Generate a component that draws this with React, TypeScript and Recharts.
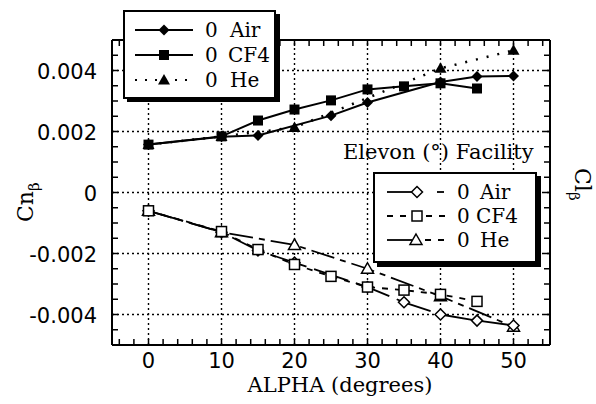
import React from 'react';
import { ComposedChart, Line, XAxis, YAxis, ReferenceLine } from 'recharts';

// Cn-beta, filled markers (upper group)
const cnAir = [
  { alpha: 0, value: 0.00157 },
  { alpha: 10, value: 0.00183 },
  { alpha: 15, value: 0.00187 },
  { alpha: 25, value: 0.00252 },
  { alpha: 30, value: 0.00295 },
  { alpha: 40, value: 0.00362 },
  { alpha: 45, value: 0.0038 },
  { alpha: 50, value: 0.00382 },
];
const cnCF4 = [
  { alpha: 0, value: 0.00157 },
  { alpha: 10, value: 0.00184 },
  { alpha: 15, value: 0.00236 },
  { alpha: 20, value: 0.00272 },
  { alpha: 25, value: 0.00302 },
  { alpha: 30, value: 0.00338 },
  { alpha: 35, value: 0.00348 },
  { alpha: 40, value: 0.00358 },
  { alpha: 45, value: 0.00341 },
];
const cnHe = [
  { alpha: 0, value: 0.00157 },
  { alpha: 10, value: 0.00184 },
  { alpha: 20, value: 0.00213 },
  { alpha: 40, value: 0.00407 },
  { alpha: 50, value: 0.00466 },
];

// Cl-beta, open markers (lower group)
const clAir = [
  { alpha: 0, value: -0.0006 },
  { alpha: 10, value: -0.0013 },
  { alpha: 15, value: -0.0019 },
  { alpha: 20, value: -0.0023 },
  { alpha: 30, value: -0.0031 },
  { alpha: 35, value: -0.0036 },
  { alpha: 40, value: -0.004 },
  { alpha: 45, value: -0.0042 },
  { alpha: 50, value: -0.00436 },
];
const clCF4 = [
  { alpha: 0, value: -0.0006 },
  { alpha: 10, value: -0.00128 },
  { alpha: 15, value: -0.00187 },
  { alpha: 20, value: -0.00236 },
  { alpha: 25, value: -0.00275 },
  { alpha: 30, value: -0.0031 },
  { alpha: 35, value: -0.0032 },
  { alpha: 40, value: -0.00334 },
  { alpha: 45, value: -0.00357 },
];
const clHe = [
  { alpha: 0, value: -0.0006 },
  { alpha: 10, value: -0.0013 },
  { alpha: 20, value: -0.00172 },
  { alpha: 30, value: -0.0025 },
  { alpha: 40, value: -0.0034 },
  { alpha: 50, value: -0.0044 },
];

const xTicks = [-4, -2, 0, 2, 4, 6, 8, 10, 12, 14, 16, 18, 20, 22, 24, 26, 28, 30, 32, 34, 36, 38, 40, 42, 44, 46, 48, 50, 52, 54];
const xLabels = [0, 10, 20, 30, 40, 50];
const yTicks = [
  -0.0045, -0.004, -0.0035, -0.003, -0.0025, -0.002, -0.0015, -0.001, -0.0005, 0,
  0.0005, 0.001, 0.0015, 0.002, 0.0025, 0.003, 0.0035, 0.004, 0.0045,
];
const yLabels = [-0.004, -0.002, 0, 0.002, 0.004];

const SANS = '"DejaVu Sans", sans-serif';
const SERIF = '"DejaVu Serif", serif';
const INK = '#000';

type Kind = 'diamond' | 'square' | 'triangle' | 'oDiamond' | 'oSquare' | 'oTriangle';

function Marker({ kind, cx, cy }: { kind: Kind; cx: number; cy: number }) {
  const open = kind.startsWith('o');
  const fill = open ? '#fff' : INK;
  const sw = open ? 1.5 : 0;
  if (kind === 'diamond' || kind === 'oDiamond') {
    const r = 5.5;
    return <polygon points={`${cx},${cy - r} ${cx + r},${cy} ${cx},${cy + r} ${cx - r},${cy}`} fill={fill} stroke={INK} strokeWidth={sw} />;
  }
  if (kind === 'square' || kind === 'oSquare') {
    return <rect x={cx - 5} y={cy - 5} width={10} height={10} fill={fill} stroke={INK} strokeWidth={sw} />;
  }
  return <polygon points={`${cx},${cy - 6} ${cx + 6},${cy + 4.5} ${cx - 6},${cy + 4.5}`} fill={fill} stroke={INK} strokeWidth={sw} />;
}

const dotOf = (kind: Kind) => (p: any) => <Marker key={`${kind}-${p.index}`} kind={kind} cx={p.cx} cy={p.cy} />;

const isMajor = (list: number[], v: number) => list.some((m) => Math.abs(m - v) < 1e-9);

const BottomTick = (p: any) => {
  const v = p.payload.value;
  return (
    <g>
      <line x1={p.x} x2={p.x} y1={p.y} y2={p.y - 6} stroke={INK} strokeWidth={1.5} />
      {isMajor(xLabels, v) && (
        <text x={p.x} y={p.y + 23} textAnchor="middle" fontFamily={SANS} fontSize={21} fill={INK}>{v}</text>
      )}
    </g>
  );
};
const TopTick = (p: any) => <line x1={p.x} x2={p.x} y1={p.y} y2={p.y + 6} stroke={INK} strokeWidth={1.5} />;
const LeftTick = (p: any) => {
  const v = p.payload.value;
  return (
    <g>
      <line x1={p.x} x2={p.x + 6} y1={p.y} y2={p.y} stroke={INK} strokeWidth={1.5} />
      {isMajor(yLabels, v) && (
        <text x={p.x - 15} y={p.y + 8} textAnchor="end" fontFamily={SANS} fontSize={21} fill={INK}>{String(v)}</text>
      )}
    </g>
  );
};
const RightTick = (p: any) => <line x1={p.x} x2={p.x - 6} y1={p.y} y2={p.y} stroke={INK} strokeWidth={1.5} />;

const axisLine = { stroke: INK, strokeWidth: 2 };

function Overlay() {
  return (
    <svg width={596} height={404} style={{ position: 'absolute', left: 0, top: 0, pointerEvents: 'none' }}>
      {/* upper legend */}
      <rect x={127} y={14} width={153} height={88} fill={INK} />
      <rect x={124} y={11} width={151} height={87} fill="#fff" stroke={INK} strokeWidth={2} />
      <line x1={135} x2={193} y1={30} y2={30} stroke={INK} strokeWidth={2} />
      <Marker kind="diamond" cx={164} cy={30} />
      <line x1={135} x2={193} y1={55} y2={55} stroke={INK} strokeWidth={2} />
      <Marker kind="square" cx={164} cy={55} />
      <line x1={135} x2={193} y1={80} y2={80} stroke={INK} strokeWidth={2} strokeDasharray="2 8" />
      <Marker kind="triangle" cx={164} cy={80} />
      <g fontFamily={SERIF} fontSize={20} fill={INK}>
        <text x={205} y={37}>0</text>
        <text x={230} y={37}>Air</text>
        <text x={205} y={62}>0</text>
        <text x={228} y={62}>CF4</text>
        <text x={205} y={87}>0</text>
        <text x={230} y={87}>He</text>
      </g>

      <text x={343} y={159} fontFamily={SERIF} fontSize={21} fill={INK}>Elevon (°) Facility</text>

      {/* lower legend */}
      <rect x={377} y={176} width={164} height={91} fill={INK} />
      <rect x={374} y={173} width={162} height={89} fill="#fff" stroke={INK} strokeWidth={2} />
      <line x1={387} x2={413} y1={192} y2={192} stroke={INK} strokeWidth={1.8} />
      <line x1={437} x2={444} y1={192} y2={192} stroke={INK} strokeWidth={1.8} />
      <Marker kind="oDiamond" cx={417} cy={192} />
      <line x1={387} x2={447} y1={216} y2={216} stroke={INK} strokeWidth={1.8} strokeDasharray="6 7" />
      <Marker kind="oSquare" cx={417} cy={216} />
      <line x1={387} x2={412} y1={240} y2={240} stroke={INK} strokeWidth={1.8} />
      <line x1={425} x2={447} y1={240} y2={240} stroke={INK} strokeWidth={1.8} strokeDasharray="6 7" />
      <Marker kind="oTriangle" cx={416} cy={240} />
      <g fontFamily={SERIF} fontSize={20} fill={INK}>
        <text x={457} y={199}>0</text>
        <text x={480} y={199}>Air</text>
        <text x={457} y={223}>0</text>
        <text x={476} y={223}>CF4</text>
        <text x={457} y={247}>0</text>
        <text x={480} y={247}>He</text>
      </g>

      {/* axis titles */}
      <text x={340} y={392} textAnchor="middle" fontFamily={SERIF} fontSize={21} fill={INK}>ALPHA (degrees)</text>
      <text transform="translate(33,222) rotate(-90)" fontFamily={SERIF} fontSize={22} fill={INK}>
        Cn<tspan dy={6} fontSize={15}>β</tspan>
      </text>
      <text transform="translate(575,168) rotate(90)" fontFamily={SERIF} fontSize={22} fill={INK}>
        Cl<tspan dy={6} fontSize={15}>β</tspan>
      </text>
    </svg>
  );
}

export default function App() {
  const lineCommon = {
    type: 'linear' as const,
    dataKey: 'value',
    xAxisId: 'bottom',
    yAxisId: 'left',
    stroke: INK,
    isAnimationActive: false,
    activeDot: false as const,
  };
  return (
    <div style={{ position: 'absolute', left: 0, top: 0, width: 596, height: 404, background: '#fff' }}>
      <ComposedChart width={596} height={404} margin={{ top: 39, right: 0, bottom: 0, left: 0 }}>
        <XAxis
          xAxisId="bottom"
          dataKey="alpha"
          type="number"
          domain={[-5, 55]}
          ticks={xTicks}
          interval={0}
          tickSize={0}
          tickMargin={0}
          height={59}
          axisLine={axisLine}
          tick={BottomTick}
          allowDataOverflow
        />
        <XAxis
          xAxisId="top"
          orientation="top"
          dataKey="alpha"
          type="number"
          domain={[-5, 55]}
          ticks={xTicks}
          interval={0}
          tickSize={0}
          tickMargin={0}
          height={1}
          axisLine={axisLine}
          tick={TopTick}
          allowDataOverflow
        />
        <YAxis
          yAxisId="left"
          type="number"
          domain={[-0.005, 0.005]}
          ticks={yTicks}
          interval={0}
          tickSize={0}
          tickMargin={0}
          width={112}
          axisLine={axisLine}
          tick={LeftTick}
          allowDataOverflow
        />
        <YAxis
          yAxisId="right"
          orientation="right"
          type="number"
          domain={[-0.005, 0.005]}
          ticks={yTicks}
          interval={0}
          tickSize={0}
          tickMargin={0}
          width={46}
          axisLine={axisLine}
          tick={RightTick}
          allowDataOverflow
        />
        {xLabels.map((v) => (
          <ReferenceLine key={`gx${v}`} x={v} xAxisId="bottom" yAxisId="left" stroke={INK} strokeWidth={1.4} strokeDasharray="2 3" />
        ))}
        {yLabels.map((v) => (
          <ReferenceLine key={`gy${v}`} y={v} xAxisId="bottom" yAxisId="left" stroke={INK} strokeWidth={1.4} strokeDasharray="2 3" />
        ))}
        <Line {...lineCommon} data={cnHe} strokeWidth={2.5} strokeDasharray="2 9" dot={dotOf('triangle')} />
        <Line {...lineCommon} data={cnAir} strokeWidth={2} dot={dotOf('diamond')} />
        <Line {...lineCommon} data={cnCF4} strokeWidth={2} dot={dotOf('square')} />
        <Line {...lineCommon} data={clHe} strokeWidth={1.8} strokeDasharray="24 6 6 6" dot={dotOf('oTriangle')} />
        <Line {...lineCommon} data={clAir} strokeWidth={1.8} strokeDasharray="36 8" dot={dotOf('oDiamond')} />
        <Line {...lineCommon} data={clCF4} strokeWidth={1.8} strokeDasharray="6 7" dot={dotOf('oSquare')} />
      </ComposedChart>
      <Overlay />
    </div>
  );
}
